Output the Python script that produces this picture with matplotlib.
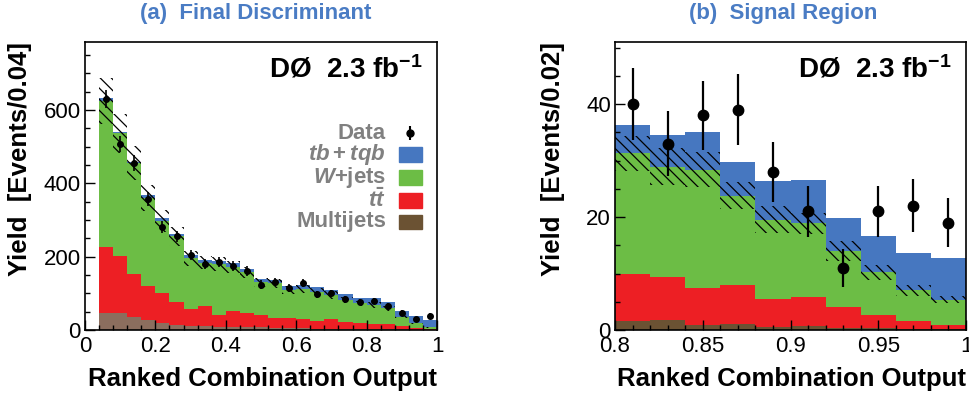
import numpy as np
import matplotlib
matplotlib.use('Agg')
import matplotlib.pyplot as plt
from matplotlib.ticker import MultipleLocator, FuncFormatter
from matplotlib.patches import Rectangle

plt.rcParams['font.family'] = ['Liberation Sans', 'DejaVu Sans']
plt.rcParams['mathtext.fontset'] = 'custom'
plt.rcParams['mathtext.rm'] = 'Liberation Sans:bold'
plt.rcParams['mathtext.bf'] = 'Liberation Sans:bold'
plt.rcParams['mathtext.it'] = 'Liberation Sans:italic:bold'
plt.rcParams['hatch.linewidth'] = 0.9

# (a) full discriminant, bins of 0.04 from 0.04 to 1.0
edges_a = np.round(np.arange(0.04, 1.0001, 0.04), 2)
multijets_a = [47, 47, 35, 27, 18, 14, 11, 10, 9, 9, 8, 7, 6, 5, 5, 4, 4, 3, 3, 3, 2, 2, 1, 1]
ttbar_a = [180, 155, 117, 93, 82, 61, 46, 56, 32, 43, 37, 34, 28, 27, 24, 21, 25, 20, 17, 13, 14, 9, 5, 2]
wjets_a = [398, 334, 303, 239, 198, 180, 138, 117, 139, 120, 112, 89, 93, 77, 82, 79, 66, 60, 53, 52, 43, 25, 12, 4]
signal_a = [7, 5, 4, 9, 7, 7, 9, 7, 9, 11, 9, 9, 9, 11, 11, 14, 14, 14, 13, 18, 18, 17, 20, 20]
data_a = [629, 507, 455, 356, 280, 255, 204, 179, 186, 174, 161, 124, 130, 115, 129, 97, 100, 84, 77, 79, 65, 47, 30, 39]
bkg_err_a = [63, 54, 46, 36, 30, 26, 20, 18, 18, 17, 16, 13, 13, 11, 11, 10, 10, 8, 7, 7, 6, 4, 2, 1]

# (b) signal region, bins of 0.02 from 0.8 to 1.0
edges_b = np.round(np.arange(0.80, 1.0001, 0.02), 2)
multijets_b = [1.6, 1.8, 0.9, 1.1, 0.6, 0.7, 0.4, 0.3, 0.2, 0.1]
ttbar_b = [8.4, 7.6, 6.5, 6.9, 4.9, 5.2, 3.6, 2.3, 1.4, 0.8]
wjets_b = [21.3, 19.5, 21.0, 15.8, 14.0, 13.0, 10.0, 7.6, 5.4, 4.5]
signal_b = [5.0, 5.7, 6.7, 6.0, 6.9, 7.6, 5.9, 6.4, 6.7, 7.3]
data_b = [40, 33, 38, 39, 28, 21, 11, 21, 22, 19]
bkg_err_b = [3.1, 3.3, 3.1, 2.4, 2.4, 1.9, 1.8, 1.3, 0.9, 0.6]

BLUE = '#4677c0'
GREEN = '#6cbd45'
RED = '#ed1f24'
BROWN = '#6b5233'
BROWN_A = '#8b6e5e'
GRAY = '#808080'
TITLE_BLUE = '#4a7cc4'

legend_labels = ['Data', r'$tb + tqb$', r'$W$+jets', r'$t\bar{t}$', 'Multijets']


def draw_panel(ax, edges, mj, tt, wj, sig, data, bkg_err, brown, ms, elw):
    edges = np.asarray(edges)
    centers = 0.5 * (edges[:-1] + edges[1:])
    bottom = np.zeros(len(mj))
    for vals, c in zip([mj, tt, wj, sig], [brown, RED, GREEN, BLUE]):
        top = bottom + np.asarray(vals, dtype=float)
        ax.stairs(top, edges, baseline=bottom, fill=True, color=c, linewidth=0.6)
        bottom = top
    bkg = np.asarray(mj) + np.asarray(tt) + np.asarray(wj)
    err = np.asarray(bkg_err, dtype=float)
    ax.bar(centers, 2 * err, bottom=bkg - err, width=np.diff(edges), fill=False,
           hatch='\\\\\\', linewidth=0, edgecolor='black', zorder=3)
    data = np.asarray(data, dtype=float)
    ax.errorbar(centers, data, yerr=np.sqrt(data), fmt='o', color='black',
                ms=ms, elinewidth=elw, capsize=0, zorder=4)


def style_axes(ax, xmaj, xmin, ymaj, ymin):
    ax.xaxis.set_major_locator(MultipleLocator(xmaj))
    ax.xaxis.set_minor_locator(MultipleLocator(xmin))
    ax.yaxis.set_major_locator(MultipleLocator(ymaj))
    ax.yaxis.set_minor_locator(MultipleLocator(ymin))
    ax.xaxis.set_major_formatter(FuncFormatter(lambda v, p: '%g' % round(v, 3)))
    ax.tick_params(which='both', direction='in', top=False, right=False,
                   labelsize=16, width=1, colors='black')
    ax.tick_params(axis='x', pad=4)
    ax.tick_params(axis='y', pad=3)
    ax.tick_params(which='major', length=7)
    ax.tick_params(which='minor', length=3.5)
    for s in ax.spines.values():
        s.set_linewidth(1.2)
    ax.set_xlabel('Ranked Combination Output', fontsize=18.5, fontweight='bold',
                  loc='right')
    ax.xaxis.set_label_coords(1.0, -0.13)
    ax.xaxis.label.set_va('top')
    ax.text(0.96, 0.905, 'DØ  2.3 fb$^{-1}$', transform=ax.transAxes,
            ha='right', va='center', fontsize=20, fontweight='bold')


fig = plt.figure(figsize=(9.69, 4.0), dpi=100)
ax_a = fig.add_axes([85 / 969, 70 / 400, 352 / 969, 288 / 400])
ax_b = fig.add_axes([615 / 969, 70 / 400, 351 / 969, 288 / 400])

draw_panel(ax_a, edges_a, multijets_a, ttbar_a, wjets_a, signal_a, data_a,
           bkg_err_a, BROWN_A, ms=4, elw=1.2)
ax_a.set_xlim(0, 1)
ax_a.set_ylim(0, 785)
style_axes(ax_a, 0.2, 0.04, 200, 50)
ax_a.set_ylabel('Yield  [Events/0.04]', fontsize=18.5, fontweight='bold', loc='top')
ax_a.yaxis.set_label_coords(-0.15, 1.0)

draw_panel(ax_b, edges_b, multijets_b, ttbar_b, wjets_b, signal_b, data_b,
           bkg_err_b, BROWN, ms=7.5, elw=1.6)
ax_b.set_xlim(0.8, 1.0)
ax_b.set_ylim(0, 51)
style_axes(ax_b, 0.05, 0.01, 20, 5)
ax_b.set_ylabel('Yield  [Events/0.02]', fontsize=18.5, fontweight='bold', loc='top')
ax_b.yaxis.set_label_coords(-0.142, 1.0)

# legend for panel (a): grey right-aligned labels with swatches on the right
rows_y = [0.684, 0.608, 0.531, 0.451, 0.375]
for label, y in zip(legend_labels, rows_y):
    ax_a.text(0.855, y, label, transform=ax_a.transAxes, ha='right', va='center',
              fontsize=16, fontweight='bold', color=GRAY)
ax_a.errorbar([0.924], [rows_y[0]], yerr=[0.024], transform=ax_a.transAxes,
              fmt='o', color='black', ms=5, elinewidth=1.5, capsize=0, clip_on=False)
for c, y in zip([BLUE, GREEN, RED, BROWN], rows_y[1:]):
    ax_a.add_patch(Rectangle((0.892, y - 0.026), 0.065, 0.052,
                             transform=ax_a.transAxes, color=c, zorder=5))

fig.text(256 / 969, 0.965, '(a)  Final Discriminant', ha='center', va='center',
         fontsize=16, fontweight='bold', color=TITLE_BLUE)
fig.text(783 / 969, 0.965, '(b)  Signal Region', ha='center', va='center',
         fontsize=16, fontweight='bold', color=TITLE_BLUE)

fig.savefig('out.png', dpi=100)
